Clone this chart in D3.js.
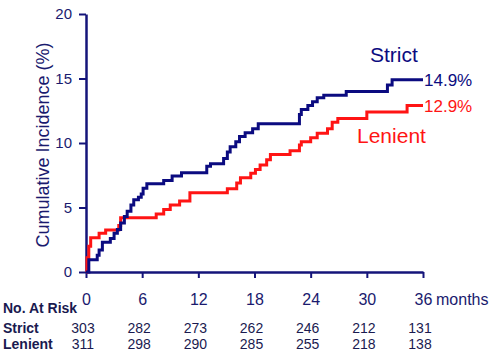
<!DOCTYPE html>
<html>
<head>
<meta charset="utf-8">
<script src="https://cdn.jsdelivr.net/npm/d3@7/dist/d3.min.js"></script>
<style>
  html, body { margin: 0; padding: 0; background: #fff; }
  svg { display: block; font-family: "Liberation Sans", Arial, sans-serif; }
</style>
</head>
<body>
<svg id="chart" width="500" height="356"></svg>
<script>
// ---- data ----
const strictTimes  = [0, 0.3, 1.2, 1.4, 1.75, 2.6, 3.0, 3.35, 3.7, 4.1, 4.4, 4.8, 5.1, 5.6, 5.9, 6.1, 6.5, 8.3, 9.2, 10.2, 12.9, 13.3, 14.7, 15.1, 15.4, 16.0, 16.4, 17.0, 17.8, 18.4, 22.8, 23.0, 23.7, 24.2, 24.7, 25.4, 27.8, 32.2, 32.7, 36];
const strictValues = [0, 0.95, 1.3, 1.7, 2.3, 2.6, 3.0, 3.3, 3.8, 4.3, 4.7, 5.2, 5.6, 5.8, 6.05, 6.5, 6.85, 7.1, 7.45, 7.7, 8.2, 8.4, 8.8, 9.3, 9.7, 10.1, 10.5, 10.8, 11.1, 11.5, 12.2, 12.6, 12.9, 13.2, 13.5, 13.7, 14.0, 14.5, 14.9, 14.9];
const lenientTimes  = [0, 0.1, 0.3, 0.5, 1.4, 2.1, 3.5, 3.7, 7.5, 8.3, 9.0, 10.0, 11.1, 15.1, 16.1, 16.5, 17.6, 18.1, 18.6, 19.3, 19.7, 21.8, 22.8, 23.0, 24.0, 24.7, 25.8, 26.3, 26.9, 30.0, 34.3, 36];
const lenientValues = [0, 1.1, 2.0, 2.65, 3.0, 3.25, 3.6, 4.2, 4.5, 4.85, 5.2, 5.5, 6.15, 6.45, 6.9, 7.3, 7.65, 7.95, 8.3, 8.7, 9.1, 9.4, 9.85, 10.1, 10.4, 10.75, 11.1, 11.6, 11.9, 12.4, 12.9, 12.9];
const xTicks = [0, 6, 12, 18, 24, 30, 36];
const yTicks = [0, 5, 10, 15, 20];
const strictAtRisk  = [303, 282, 273, 262, 246, 212, 131];
const lenientAtRisk = [311, 298, 290, 285, 255, 218, 138];
const seriesNames = ["Strict", "Lenient"];
const finalLabels = ["14.9%", "12.9%"];

// ---- styles ----
const NAVY = "#14147a";
const BLUE = "#0b0b80";
const RED = "#ff1414";
const TEXT = "#1a1a6e";

const svg = d3.select("#chart");
const x = d3.scaleLinear().domain([0, 36]).range([86, 423]);
const y = d3.scaleLinear().domain([0, 20]).range([272, 14]);

// axes
const yAxis = d3.axisLeft(y).tickValues(yTicks).tickSize(7).tickSizeOuter(0).tickPadding(7);
const gy = svg.append("g").attr("transform", "translate(86,0)").call(yAxis);
gy.select(".domain").attr("stroke", NAVY).attr("stroke-width", 2.5);
gy.selectAll(".tick line").attr("stroke", NAVY).attr("stroke-width", 2);
gy.selectAll(".tick text").attr("fill", TEXT).style("font-size", "15px");

const xAxis = d3.axisBottom(x).tickValues(xTicks).tickSize(6).tickSizeOuter(0).tickPadding(16);
const gx = svg.append("g").attr("transform", "translate(0,272)").call(xAxis);
gx.select(".domain").attr("stroke", NAVY).attr("stroke-width", 2.5);
gx.selectAll(".tick line").attr("stroke", NAVY).attr("stroke-width", 2);
gx.selectAll(".tick text").attr("fill", TEXT).style("font-size", "16px");

svg.append("text").attr("x", 436).attr("y", 305).attr("fill", TEXT)
  .style("font-size", "16px").text("months");

// y title
svg.append("text")
  .attr("transform", "translate(49,145) rotate(-90)")
  .attr("text-anchor", "middle").attr("fill", TEXT)
  .style("font-size", "18px").text("Cumulative Incidence (%)");

// curves
const line = d3.line().x(d => x(d[0])).y(d => y(d[1])).curve(d3.curveStepAfter);
const strictData = d3.zip(strictTimes, strictValues);
const lenientData = d3.zip(lenientTimes, lenientValues);

svg.append("path").datum(lenientData).attr("d", line)
  .attr("fill", "none").attr("stroke", RED).attr("stroke-width", 3);
svg.append("path").datum(strictData).attr("d", line)
  .attr("fill", "none").attr("stroke", BLUE).attr("stroke-width", 3);

// labels
svg.append("text").attr("x", 370).attr("y", 62).attr("fill", BLUE)
  .style("font-size", "21px").text(seriesNames[0]);
svg.append("text").attr("x", 357).attr("y", 143).attr("fill", RED)
  .style("font-size", "21px").text(seriesNames[1]);
svg.append("text").attr("x", 424).attr("y", y(strictValues[strictValues.length - 1]) + 6).attr("fill", BLUE)
  .style("font-size", "17px").text(finalLabels[0]);
svg.append("text").attr("x", 424).attr("y", y(lenientValues[lenientValues.length - 1]) + 6).attr("fill", RED)
  .style("font-size", "17px").text(finalLabels[1]);

// at-risk table
const TBL = "#1a1a50";
svg.append("text").attr("x", 3).attr("y", 313).attr("fill", TBL)
  .style("font-size", "14px").style("font-weight", "bold").text("No. At Risk");
svg.append("text").attr("x", 3).attr("y", 333).attr("fill", TBL)
  .style("font-size", "14px").style("font-weight", "bold").text(seriesNames[0]);
svg.append("text").attr("x", 3).attr("y", 349).attr("fill", TBL)
  .style("font-size", "14px").style("font-weight", "bold").text(seriesNames[1]);

svg.append("g").selectAll("text").data(strictAtRisk).join("text")
  .attr("x", (d, i) => x(xTicks[i]) - 3).attr("y", 333)
  .attr("text-anchor", "middle").attr("fill", TBL).style("font-size", "14px")
  .text(d => d);
svg.append("g").selectAll("text").data(lenientAtRisk).join("text")
  .attr("x", (d, i) => x(xTicks[i]) - 3).attr("y", 349)
  .attr("text-anchor", "middle").attr("fill", TBL).style("font-size", "14px")
  .text(d => d);
</script>
</body>
</html>
